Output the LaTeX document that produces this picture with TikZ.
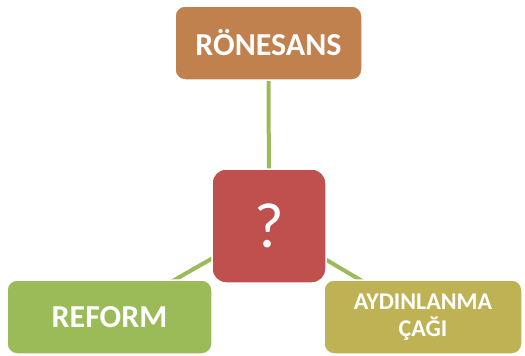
\documentclass[tikz,border=0pt]{standalone}
\usepackage{fontspec}
\setmainfont{Carlito}
\usepackage{xcolor}
\definecolor{copper}{HTML}{C0814F}
\definecolor{brick}{HTML}{C0504D}
\definecolor{leaf}{HTML}{9BBB59}
\definecolor{olive}{HTML}{BFB254}
\usetikzlibrary{backgrounds}

\begin{document}
\begin{tikzpicture}
		[x=1pt,y=-1pt,
		every node/.style={rounded corners=10pt,draw=white,line width=1.5pt,text=white,font=\bfseries},
		era/.style={minimum height=74pt,inner sep=0pt,align=center},
		link/.style={draw=leaf,line width=4pt}]
		\useasboundingbox (0,0) rectangle (525,356);
		\node[era,fill=copper,minimum width=187pt,font=\fontsize{32}{34}\selectfont\bfseries] (ronesans) at (268.5,43) {RÖNESANS};
		\node[fill=brick,minimum width=114pt,minimum height=114pt,inner sep=0pt,rounded corners=14pt,font=\fontsize{64}{66}\selectfont] (soru) at (269,226) {?};
		\node[era,fill=leaf,minimum width=205pt,font=\fontsize{32}{34}\selectfont\bfseries] (reform) at (109.5,317) {REFORM};
		\node[era,fill=olive,minimum width=198pt,font=\fontsize{24}{27}\selectfont\bfseries] (aydinlanma) at (423,317) {AYDINLANMA\\ÇAĞI};
		\begin{pgfonlayer}{background}
			\draw[link] (ronesans.center) -- (soru.center);
			\draw[link] (soru.center) -- (reform.center);
			\draw[link] (soru.center) -- (aydinlanma.center);
		\end{pgfonlayer}
	\end{tikzpicture}
\end{document}
